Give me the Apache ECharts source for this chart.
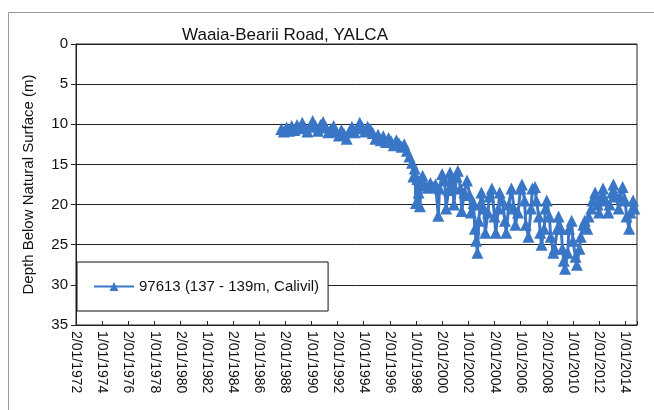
<!DOCTYPE html>
<html>
<head>
<meta charset="utf-8">
<script src="https://cdn.jsdelivr.net/npm/echarts@6/dist/echarts.min.js"></script>
<style>
  html, body { margin: 0; padding: 0; background: #fff; }
  #container { width: 654px; height: 410px; }
</style>
</head>
<body>
<div id="container"></div>
<script>
// observation dates as decimal years
var obsYears = [
    1987.7, 1987.9, 1988.1, 1988.3, 1988.5, 1988.7, 1988.9, 1989.1, 1989.3, 1989.5,
    1989.7, 1989.9, 1990.1, 1990.3, 1990.5, 1990.7, 1990.9, 1991.1, 1991.3, 1991.5,
    1991.7, 1991.9, 1992.1, 1992.3, 1992.5, 1992.7, 1992.9, 1993.1, 1993.3, 1993.5,
    1993.7, 1993.9, 1994.1, 1994.3, 1994.5, 1994.7, 1994.9, 1995.1, 1995.3, 1995.5,
    1995.7, 1995.9, 1996.1, 1996.3, 1996.5, 1996.7, 1996.9, 1997.1, 1997.3, 1997.5,
    1997.7, 1997.8, 1997.9, 1998.0, 1998.1, 1998.2, 1998.3, 1998.4, 1998.5, 1998.7,
    1998.9, 1999.1, 1999.3, 1999.5, 1999.7, 1999.8, 2000.0, 2000.2, 2000.3, 2000.5,
    2000.6, 2000.8, 2000.9, 2001.1, 2001.2, 2001.4, 2001.5, 2001.7, 2001.9, 2002.1,
    2002.2, 2002.4, 2002.5, 2002.6, 2002.7, 2002.8, 2002.9, 2003.0, 2003.2, 2003.3,
    2003.5, 2003.6, 2003.8, 2004.0, 2004.1, 2004.3, 2004.4, 2004.6, 2004.8, 2004.9,
    2005.1, 2005.3, 2005.5, 2005.6, 2005.8, 2006.0, 2006.1, 2006.3, 2006.4, 2006.6,
    2006.8, 2006.9, 2007.1, 2007.2, 2007.4, 2007.5, 2007.6, 2007.8, 2007.9, 2008.0,
    2008.2, 2008.3, 2008.5, 2008.6, 2008.8, 2008.9, 2009.1, 2009.2, 2009.3, 2009.4,
    2009.6, 2009.7, 2009.9, 2010.0, 2010.2, 2010.3, 2010.5, 2010.6, 2010.8, 2010.9,
    2011.1, 2011.2, 2011.4, 2011.5, 2011.7, 2011.9, 2012.0, 2012.2, 2012.3, 2012.5,
    2012.7, 2012.8, 2013.0, 2013.1, 2013.3, 2013.5, 2013.6, 2013.8, 2014.0, 2014.1,
    2014.3, 2014.4, 2014.6, 2014.7
];
// depth below natural surface (m)
var depths = [
    10.6, 10.9, 10.4, 10.8, 10.2, 10.7, 10.1, 10.5, 9.8, 10.4,
    10.9, 10.3, 9.6, 10.2, 10.8, 10.1, 9.7, 10.4, 11.0, 10.6,
    10.2, 10.9, 11.4, 10.7, 11.2, 11.8, 10.9, 10.3, 11.0, 10.5,
    9.8, 10.4, 10.9, 10.3, 10.6, 11.1, 11.8, 11.3, 12.0, 11.5,
    12.2, 11.7, 12.1, 12.6, 12.0, 12.4, 12.8, 12.5, 13.3, 14.0,
    14.8, 16.5, 15.5, 19.8, 16.8, 18.5, 20.2, 17.2, 16.4, 17.6,
    17.9, 17.3, 17.8, 17.5, 21.4, 18.0, 16.2, 17.0, 20.5, 18.2,
    16.0, 17.4, 20.0, 16.5, 15.8, 18.0, 20.8, 18.5, 17.0, 18.8,
    21.0, 19.8, 23.0, 24.5, 26.0, 22.0, 20.0, 18.5, 20.5, 23.5,
    21.0, 19.0, 18.0, 21.5, 23.5, 20.5, 18.5, 19.5, 22.0, 23.5,
    20.0, 18.0, 20.5, 22.5, 21.0, 18.0, 17.5, 19.5, 22.5, 24.0,
    20.5, 18.0, 17.8, 19.5, 21.5, 23.5, 25.0, 23.0, 20.5, 19.5,
    21.5, 24.0, 26.0, 25.5, 23.0, 21.5, 23.0, 25.5, 27.0, 28.0,
    26.0, 23.0, 22.0, 24.5, 26.5, 27.5, 25.5, 24.0, 22.5, 22.0,
    23.0, 21.5, 20.5, 19.5, 18.5, 20.0, 21.0, 19.0, 18.0, 19.5,
    21.0, 20.0, 18.5, 17.5, 19.0, 20.5, 19.0, 17.8, 19.5, 21.5,
    23.0, 21.0, 19.5, 20.5
];
var xTickLabels = [
    '2/01/1972', '1/01/1974', '2/01/1976', '1/01/1978', '2/01/1980', '1/01/1982',
    '2/01/1984', '1/01/1986', '2/01/1988', '1/01/1990', '2/01/1992', '1/01/1994',
    '2/01/1996', '1/01/1998', '2/01/2000', '1/01/2002', '2/01/2004', '1/01/2006',
    '2/01/2008', '1/01/2010', '2/01/2012', '1/01/2014'
];
var seriesName = '97613 (137 - 139m, Calivil)';

var seriesData = [];
for (var i = 0; i < obsYears.length; i++) {
    seriesData.push([obsYears[i], depths[i]]);
}

var dom = document.getElementById('container');
var myChart = echarts.init(dom);

var option = {
    animation: false,
    textStyle: { fontFamily: 'Liberation Sans, Arial, sans-serif', color: '#111' },
    title: {
        text: 'Waaia-Bearii Road, YALCA',
        left: 280,
        textAlign: 'center',
        top: 22,
        textStyle: { fontSize: 17, fontWeight: 'normal', color: '#111' }
    },
    graphic: [{
        type: 'rect',
        shape: { x: 8.5, y: 12.5, width: 660, height: 420 },
        style: { fill: 'none', stroke: '#999', lineWidth: 1 },
        silent: true
    }],
    legend: {
        left: 77,
        top: 262,
        orient: 'vertical',
        itemWidth: 40,
        itemHeight: 11,
        itemGap: 4,
        padding: [17, 9, 17, 16],
        backgroundColor: '#fff',
        borderColor: '#111',
        borderWidth: 1,
        borderRadius: 0,
        textStyle: { fontSize: 15, color: '#111' },
        data: [seriesName]
    },
    grid: {
        left: 76,
        right: 17,
        top: 44,
        bottom: 85,
        show: true,
        borderColor: '#222',
        borderWidth: 1
    },
    xAxis: {
        type: 'value',
        min: 1972,
        max: 2014.9,
        interval: 2,
        axisLine: { onZero: false, lineStyle: { color: '#222' } },
        axisTick: { inside: true, length: 4, lineStyle: { color: '#222' } },
        splitLine: { show: false },
        axisLabel: {
            rotate: -90,
            fontSize: 14,
            color: '#111',
            margin: 6,
            formatter: function (v) {
                var idx = (v - 1972) / 2;
                if (Math.abs(idx - Math.round(idx)) > 1e-6) return '';
                return xTickLabels[Math.round(idx)] || '';
            }
        }
    },
    yAxis: {
        type: 'value',
        inverse: true,
        min: 0,
        max: 35,
        interval: 5,
        name: 'Depth Below Natural Surface (m)',
        nameLocation: 'middle',
        nameGap: 40,
        nameTextStyle: { fontSize: 15, color: '#111' },
        axisLine: { show: true, lineStyle: { color: '#222' } },
        axisTick: { show: true, length: 5, lineStyle: { color: '#222' } },
        splitLine: { lineStyle: { color: '#222', width: 1 } },
        axisLabel: { fontSize: 15, color: '#111', margin: 8 }
    },
    series: [{
        name: seriesName,
        type: 'line',
        data: seriesData,
        symbol: 'triangle',
        symbolSize: 12,
        itemStyle: { color: '#3a76c6' },
        lineStyle: { color: '#3a76c6', width: 3 }
    }]
};

if (option && typeof option === 'object') {
    myChart.setOption(option);
}
window.addEventListener('resize', myChart.resize);
</script>
</body>
</html>
